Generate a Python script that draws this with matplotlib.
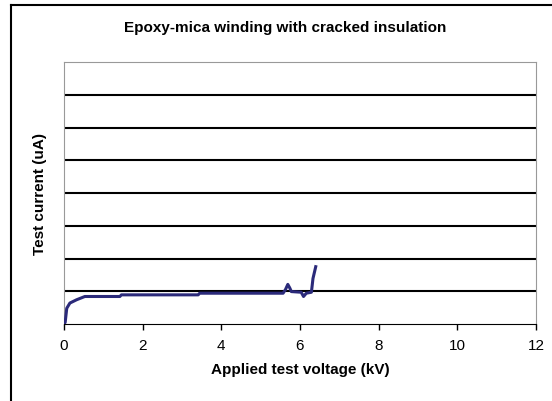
import matplotlib
matplotlib.use("Agg")
import matplotlib.pyplot as plt
from matplotlib.lines import Line2D

plt.rcParams['font.family'] = ['Liberation Sans', 'DejaVu Sans']

# (kV, arbitrary uA units: one gridline = 1)
voltage = [0.0, 0.03, 0.07, 0.15, 0.32, 0.53, 1.42, 1.46, 3.41, 3.45, 5.57,
           5.63, 5.69, 5.74, 5.78, 6.03, 6.09, 6.16, 6.29, 6.33, 6.40]
current = [0.0, 0.05, 0.48, 0.64, 0.74, 0.84, 0.84, 0.89, 0.89, 0.94, 0.94,
           1.05, 1.21, 1.10, 0.99, 0.97, 0.84, 0.94, 0.97, 1.39, 1.75]
x_ticks = [0, 2, 4, 6, 8, 10, 12]

fig = plt.figure(figsize=(5.52, 4.02), dpi=100)
ax = fig.add_axes([64/552, 77/402, 472/552, 262/402])

for y in range(1, 8):
    ax.axhline(y, color='black', lw=1.5, zorder=1)
ax.plot(voltage, current, color='#2b2a7a', lw=2.2, zorder=3,
        solid_joinstyle='round')

ax.set_xlim(0, 12)
ax.set_ylim(0, 8)
ax.set_xticks(x_ticks)
ax.set_yticks([])
ax.tick_params(axis='x', direction='out', length=4, width=1, labelsize=11,
               pad=6)
for side in ['left', 'top', 'right']:
    ax.spines[side].set_color('#999999')
ax.spines['bottom'].set_color('black')

ax.set_xlabel('Applied test voltage (kV)', fontsize=11, fontweight='bold',
              labelpad=7)
ax.set_ylabel('Test current (uA)', fontsize=11, fontweight='bold',
              labelpad=12)
fig.text(285/552, 1 - 28/402, 'Epoxy-mica winding with cracked insulation',
         ha='center', va='center', fontsize=11, fontweight='bold')

# outer chart frame (cropped at right and bottom)
fig.add_artist(Line2D([11/552, 11/552], [0, 1 - 5.5/402], color='black',
                      lw=1.5, transform=fig.transFigure))
fig.add_artist(Line2D([11/552, 1], [1 - 5.5/402, 1 - 5.5/402], color='black',
                      lw=1.5, transform=fig.transFigure))

fig.savefig('out.png', dpi=100)
